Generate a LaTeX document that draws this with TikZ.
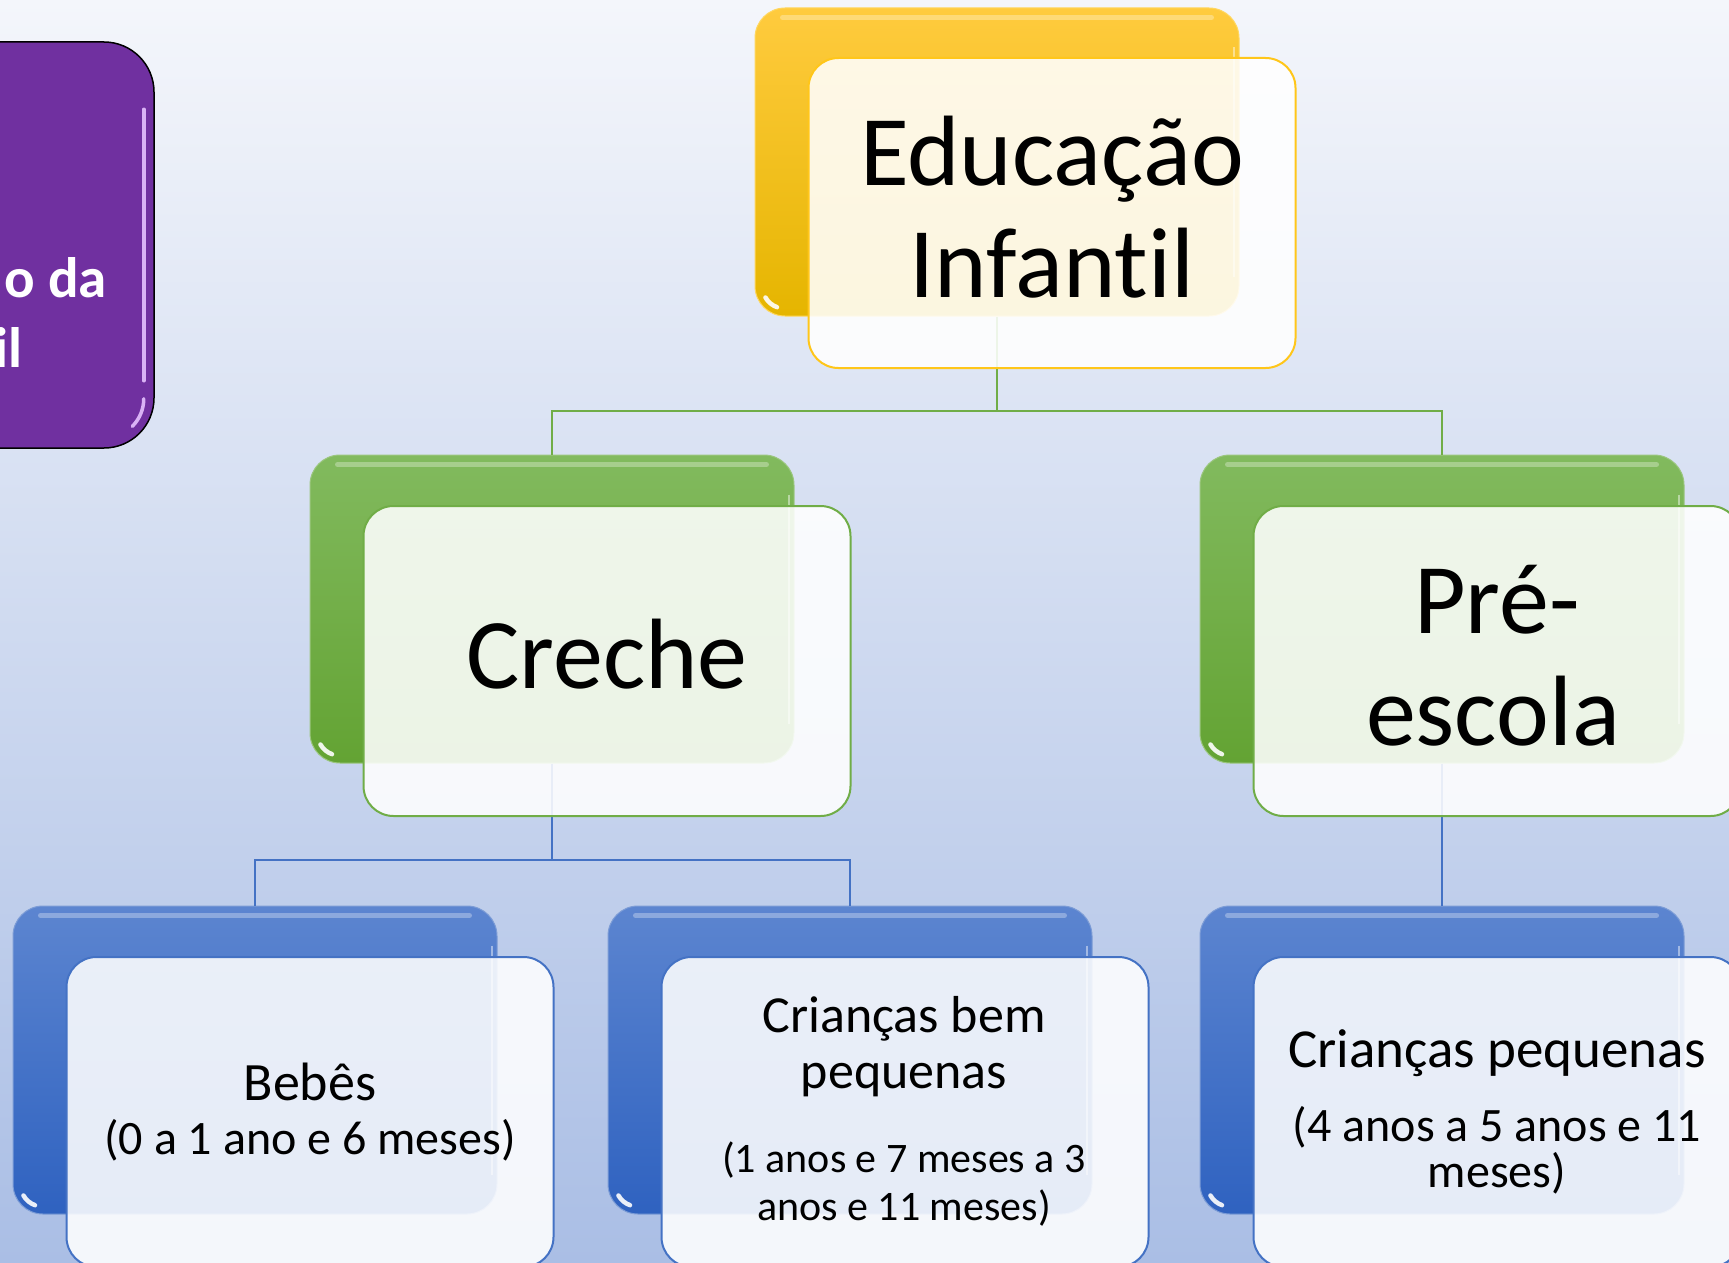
\documentclass[tikz,border=0pt]{standalone}
\usepackage{fontspec}
\setmainfont{Carlito}[Ligatures={NoCommon,NoContextual}]
\usetikzlibrary{calc}
\definecolor{bgtop}{HTML}{F4F6FB}
\definecolor{bgbot}{HTML}{AABEE5}
\definecolor{ytop}{HTML}{FFCB3E}
\definecolor{ybot}{HTML}{E5B500}
\definecolor{yedge}{HTML}{FFC61A}
\definecolor{gtop}{HTML}{82BA5E}
\definecolor{gbot}{HTML}{63A333}
\definecolor{gedge}{HTML}{70AD47}
\definecolor{btop}{HTML}{5C85D0}
\definecolor{bbot}{HTML}{2F62C0}
\definecolor{bedge}{HTML}{4472C4}
\definecolor{purp}{HTML}{7030A0}
\definecolor{purphl}{HTML}{D9B2F5}
\tikzset{
  backbox/.style={draw=#1edge!70!white, line width=1pt, rounded corners=30pt,
    minimum width=484pt, minimum height=308pt, inner sep=0pt,
    top color=#1top, bottom color=#1bot},
  frontbox/.style={draw=#1edge, line width=2pt, rounded corners=30pt,
    minimum width=487pt, minimum height=310pt, inner sep=0pt,
    fill=white, fill opacity=0.88},
  gline/.style={draw=gedge, line width=2.5pt},
  bline/.style={draw=bedge, line width=2.5pt},
  txt/.style={anchor=base, inner sep=0pt, text=black},
  big/.style={txt, font=\fontsize{100pt}{112pt}\selectfont},
  glint/.style={draw=white, line width=4.5pt, line cap=round, opacity=0.9},
  tophl/.style={draw=white, line width=5pt, line cap=round, opacity=0.3}
}
\newcommand{\hlbox}[1]{%
  \draw[tophl] ($(#1.north west)+(28,10)$) -- ($(#1.north east)+(-28,10)$);
  \draw[glint] ($(#1.south west)+(30,-30)$) ++(150:22) arc[start angle=150, end angle=110, radius=22];
  \draw[draw=white, line width=2pt, opacity=0.45] ($(#1.north east)+(-6,40)$) -- ($(#1.south east)+(-6,-40)$);
}
\begin{document}
\begin{tikzpicture}[x=1pt,y=-1pt]
\useasboundingbox (0,0) rectangle (1729,1263);
\fill[top color=bgtop, bottom color=bgbot] (0,0) rectangle (1729,1263);

% purple box (cut off at left)
\node[draw=black, line width=1.5pt, fill=purp, rounded corners=50pt,
  minimum width=500pt, minimum height=406pt, inner sep=0pt] (pb) at (-96,245) {};
\draw[purphl, line width=3.5pt, line cap=round] ($(pb.north east)+(-11,68)$) -- ($(pb.south east)+(-11,-68)$);
\draw[purphl, line width=3.5pt, line cap=round] ($(pb.south east)+(-11,-50)$) arc[start angle=0, end angle=45, radius=39];
\node[anchor=base east, inner sep=0pt, text=white, font=\fontsize{57pt}{70pt}\selectfont\bfseries] (pt1) at (107,297) {o da};
\node[anchor=base east, inner sep=0pt, text=white, font=\fontsize{57pt}{70pt}\selectfont\bfseries] (pt2) at (23,367) {il};

% connector junctions
\coordinate (j1) at (997,411);
\coordinate (j2) at (552,860);

% back boxes
\node[backbox=y] (yb) at (997,162) {};
\node[backbox=g] (gc) at (552,609) {};
\node[backbox=g] (gp) at (1442,609) {};
\node[backbox=b] (bb) at (255,1060) {};
\node[backbox=b] (bc) at (850,1060) {};
\node[backbox=b] (bp) at (1442,1060) {};
\hlbox{yb}\hlbox{gc}\hlbox{gp}\hlbox{bb}\hlbox{bc}\hlbox{bp}

% connectors
\draw[gline] (yb.south) -- (j1);
\draw[gline] (j1) -| (gc.north);
\draw[gline] (j1) -| (gp.north);
\draw[bline] (gc.south) -- (j2);
\draw[bline] (j2) -| (bb.north);
\draw[bline] (j2) -| (bc.north);
\draw[bline] (gp.south) -- (bp.north);

% front boxes
\node[frontbox=y] (yf) at (1052,213) {};
\node[frontbox=g] (gcf) at (607,661) {};
\node[frontbox=g] (gpf) at (1497,661) {};
\node[frontbox=b] (bbf) at (310,1112) {};
\node[frontbox=b] (bcf) at (905,1112) {};
\node[frontbox=b] (bpf) at (1497,1112) {};

% texts
\node[big] (t1a) at (1052,185) {Educação};
\node[big] (t1b) at (1052,297) {Infant\kern0pt il};
\node[big] (t2) at (607,688) {Creche};
\node[big] (t3a) at (1497,633) {Pré-};
\node[big] (t3b) at (1493,745) {escola};
\node[txt, font=\fontsize{54pt}{60pt}\selectfont] (t4a) at (310,1100) {Bebês};
\node[txt, font=\fontsize{48pt}{54pt}\selectfont] (t4b) at (310,1154) {(0 a 1 ano e 6 meses)};
\node[txt, font=\fontsize{52pt}{56pt}\selectfont] (t5a) at (904,1032) {Crianças bem};
\node[txt, font=\fontsize{52pt}{56pt}\selectfont] (t5b) at (904,1088) {pequenas};
\node[txt, font=\fontsize{42pt}{48pt}\selectfont] (t5c) at (904,1172) {(1 anos e 7 meses a 3};
\node[txt, font=\fontsize{42pt}{48pt}\selectfont] (t5d) at (904,1220) {anos e 11 meses)};
\node[txt, font=\fontsize{55pt}{60pt}\selectfont] (t6a) at (1497,1067) {Crianças pequenas};
\node[txt, font=\fontsize{48pt}{54pt}\selectfont] (t6b) at (1497,1141) {(4 anos a 5 anos e 11};
\node[txt, font=\fontsize{48pt}{54pt}\selectfont] (t6c) at (1497,1187) {meses)};
\end{tikzpicture}
\end{document}
